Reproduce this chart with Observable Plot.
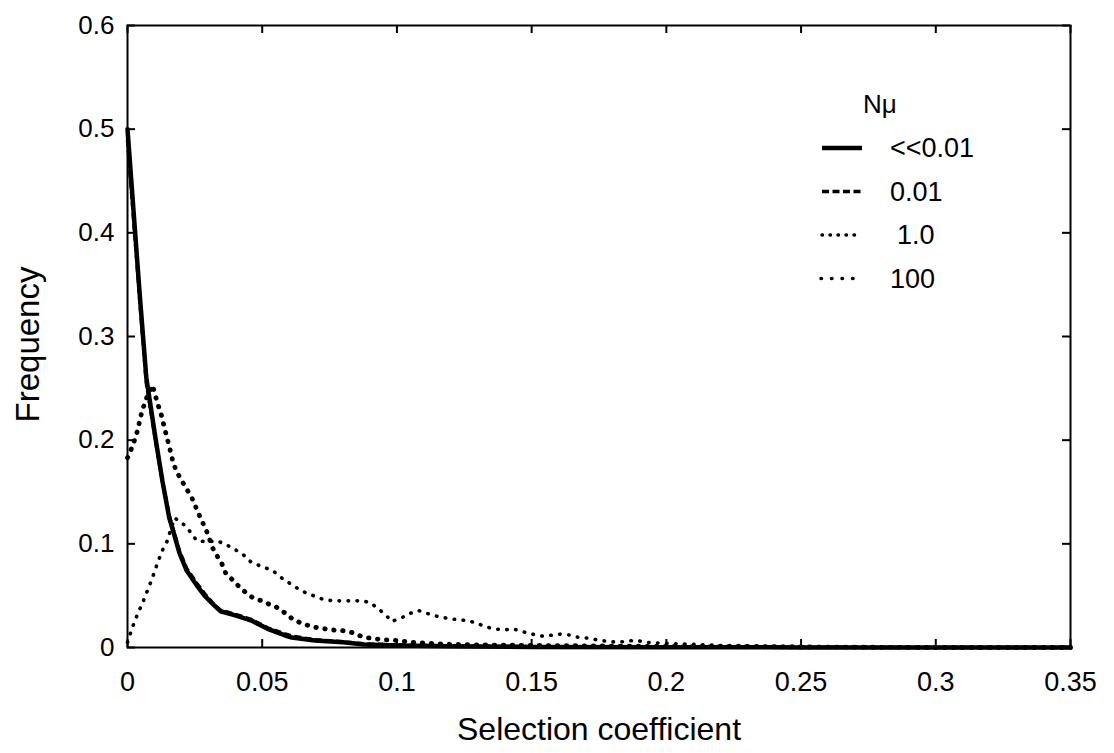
<!DOCTYPE html>
<html><head><meta charset="utf-8">
<script src="https://cdn.jsdelivr.net/npm/d3@7"></script>
<script src="https://cdn.jsdelivr.net/npm/@observablehq/plot@0.6"></script>
<style>
body{margin:0;background:#fff;}
#wrap{position:relative;width:1114px;height:753px;}
#legend{position:absolute;left:0;top:0;pointer-events:none;}
</style></head><body><div id="wrap"></div>
<script>
// ---- data ----
const seriesNames = ["<<0.01", "0.01", "1.0", "100"];
const legendTitle = "Nμ";
const xLabel = "Selection coefficient";
const yLabel = "Frequency";
const xTicks = [0, 0.05, 0.1, 0.15, 0.2, 0.25, 0.3, 0.35];
const xTickLabels = ["0", "0.05", "0.1", "0.15", "0.2", "0.25", "0.3", "0.35"];
const yTicks = [0, 0.1, 0.2, 0.3, 0.4, 0.5, 0.6];
const yTickLabels = ["0", "0.1", "0.2", "0.3", "0.4", "0.5", "0.6"];

// <<0.01 and 0.01 share their s positions
const sLow = [0, 0.0025, 0.0047, 0.007, 0.0105, 0.013, 0.0155, 0.0172, 0.0193, 0.022, 0.0257, 0.0286, 0.0316, 0.0345, 0.040, 0.046, 0.052, 0.0585, 0.061, 0.0695, 0.080, 0.088, 0.10, 0.12, 0.15, 0.20, 0.25, 0.30, 0.35];
const fLow001 = [0.50, 0.412, 0.335, 0.26, 0.20, 0.16, 0.125, 0.11, 0.091, 0.074, 0.060, 0.050, 0.042, 0.035, 0.031, 0.026, 0.018, 0.0116, 0.0096, 0.0068, 0.005, 0.003, 0.002, 0.0012, 0.0006, 0.0003, 0.0001, 0, 0];
const f001 = [0.49, 0.405, 0.33, 0.255, 0.198, 0.16, 0.127, 0.112, 0.093, 0.076, 0.062, 0.052, 0.043, 0.036, 0.032, 0.027, 0.019, 0.013, 0.011, 0.0075, 0.0055, 0.0035, 0.0025, 0.0015, 0.0008, 0.0004, 0.0002, 0, 0];

const s10 = [0, 0.0015, 0.0026, 0.0037, 0.0052, 0.0063, 0.0074, 0.0093, 0.0112, 0.0123, 0.0138, 0.0156, 0.0171, 0.0186, 0.0201, 0.0219, 0.0238, 0.0264, 0.0294, 0.0316, 0.0331, 0.035, 0.0364, 0.0387, 0.0413, 0.0439, 0.0465, 0.0498, 0.0532, 0.0561, 0.062, 0.0684, 0.0758, 0.0796, 0.0833, 0.087, 0.0907, 0.0944, 0.1004, 0.1056, 0.113, 0.1204, 0.13, 0.15, 0.175, 0.2, 0.25, 0.3, 0.35];
const f10 = [0.183, 0.192, 0.2, 0.209, 0.226, 0.235, 0.243, 0.253, 0.235, 0.227, 0.211, 0.193, 0.177, 0.168, 0.161, 0.153, 0.145, 0.129, 0.112, 0.096, 0.089, 0.081, 0.072, 0.066, 0.059, 0.053, 0.048, 0.045, 0.041, 0.038, 0.026, 0.02, 0.017, 0.0164, 0.0145, 0.0106, 0.0087, 0.0077, 0.0068, 0.005, 0.004, 0.003, 0.0025, 0.002, 0.0015, 0.001, 0.0005, 0, 0];

const s100 = [0, 0.0019, 0.0037, 0.0056, 0.0093, 0.0112, 0.013, 0.0145, 0.0156, 0.0175, 0.0212, 0.0238, 0.0257, 0.0297, 0.0331, 0.036, 0.039, 0.0428, 0.046, 0.054, 0.057, 0.0625, 0.066, 0.069, 0.072, 0.076, 0.083, 0.087, 0.090, 0.093, 0.096, 0.098, 0.102, 0.105, 0.108, 0.111, 0.115, 0.119, 0.122, 0.126, 0.129, 0.133, 0.136, 0.14, 0.143, 0.147, 0.150, 0.154, 0.158, 0.161, 0.164, 0.167, 0.171, 0.175, 0.178, 0.182, 0.185, 0.189, 0.192, 0.2, 0.22, 0.25, 0.3, 0.35];
const f100 = [0.005, 0.02, 0.032, 0.043, 0.0675, 0.082, 0.094, 0.101, 0.11, 0.125, 0.118, 0.11, 0.103, 0.102, 0.103, 0.1, 0.096, 0.09, 0.082, 0.074, 0.0675, 0.058, 0.053, 0.05, 0.047, 0.045, 0.045, 0.045, 0.0434, 0.0376, 0.031, 0.025, 0.029, 0.033, 0.0357, 0.033, 0.03, 0.028, 0.027, 0.026, 0.024, 0.020, 0.018, 0.017, 0.018, 0.015, 0.013, 0.011, 0.012, 0.013, 0.012, 0.010, 0.009, 0.007, 0.006, 0.005, 0.006, 0.007, 0.005, 0.004, 0.002, 0.001, 0, 0];

// ---- styles ----
const styles = [
  {strokeWidth: 4.5, dash: null, cap: "round"},
  {strokeWidth: 3.5, dash: "7 3.5", cap: "butt"},
  {strokeWidth: 4.8, dash: "0.5 8.5", cap: "round"},
  {strokeWidth: 3.6, dash: "0.5 8.5", cap: "round"}
];
const seriesData = [[sLow, fLow001], [sLow, f001], [s10, f10], [s100, f100]];
const rows = seriesData.map(([s, f], k) => s.map((v, i) => ({s: v, f: f[i], series: seriesNames[k]})));

const xLab = new Map(xTicks.map((t, i) => [t, xTickLabels[i]]));
const yLab = new Map(yTicks.map((t, i) => [t, yTickLabels[i]]));

const W = 1114, H = 753, mL = 127, mR = 44, mT = 25, mB = 106;
const fw = W - mL - mR, fh = H - mT - mB;
const font = "'Liberation Sans', Arial, Helvetica, sans-serif";

const lineMarks = [3, 2, 1, 0].map(k => Plot.line(rows[k], {
  x: "s", y: "f", stroke: "#000", strokeWidth: styles[k].strokeWidth,
  strokeDasharray: styles[k].dash, strokeLinecap: styles[k].cap, strokeLinejoin: "round"
}));

const chart = Plot.plot({
  width: W, height: H, marginLeft: mL, marginRight: mR, marginTop: mT, marginBottom: mB,
  style: {fontFamily: font, fontSize: "26px", color: "#000", background: "#fff"},
  x: {domain: [0, 0.35]},
  y: {domain: [0, 0.6]},
  marks: [
    ...lineMarks,
    Plot.frame({stroke: "#000", strokeWidth: 2}),
    Plot.tickX(xTicks, {x: d => d, insetTop: fh - 8, stroke: "#000", strokeWidth: 2}),
    Plot.tickX(xTicks, {x: d => d, insetBottom: fh - 8, stroke: "#000", strokeWidth: 2}),
    Plot.tickY(yTicks, {y: d => d, insetRight: fw - 8, stroke: "#000", strokeWidth: 2}),
    Plot.tickY(yTicks, {y: d => d, insetLeft: fw - 8, stroke: "#000", strokeWidth: 2}),
    Plot.axisX({ticks: xTicks, tickFormat: d => xLab.get(d) ?? "", tickSize: 0, tickPadding: 24, label: null, fontSize: 27}),
    Plot.axisY({ticks: yTicks, tickFormat: d => yLab.get(d) ?? "", tickSize: 0, tickPadding: 13, label: null, fontSize: 26}),
    Plot.text([xLabel], {frameAnchor: "bottom", textAnchor: "middle", lineAnchor: "top", dy: 70, fontSize: 32, fill: "#000"}),
    Plot.text([yLabel], {frameAnchor: "left", textAnchor: "middle", rotate: -90, lineAnchor: "top", dx: -112, dy: 8, fontSize: 33, fill: "#000"})
  ]
});
const wrap = document.getElementById("wrap");
wrap.appendChild(chart);

// ---- legend overlay ----
const lg = d3.select(wrap).append("svg").attr("id", "legend")
  .attr("width", W).attr("height", H)
  .style("font-family", font);
lg.append("text").attr("x", 863).attr("y", 104).attr("dy", "0.35em")
  .attr("font-size", 26).text(legendTitle);
const rowY = [148, 191.5, 235, 278.5];
const lineX = [[822, 862], [822, 862], [822, 858], [821, 854]];
seriesNames.forEach((name, k) => {
  lg.append("line").attr("x1", lineX[k][0]).attr("x2", lineX[k][1])
    .attr("y1", rowY[k]).attr("y2", rowY[k])
    .attr("stroke", "#000").attr("stroke-width", k === 0 ? 4.5 : 3.5)
    .attr("stroke-dasharray", k === 0 ? null : k === 1 ? "7 3.5" : k === 2 ? "0.5 7.5" : "0.5 10")
    .attr("stroke-linecap", k === 0 || k === 1 ? "butt" : "round");
  lg.append("text").attr("x", k === 2 ? 897 : 890).attr("y", rowY[k]).attr("dy", "0.35em")
    .attr("font-size", 27).text(name);
});
</script></body></html>
